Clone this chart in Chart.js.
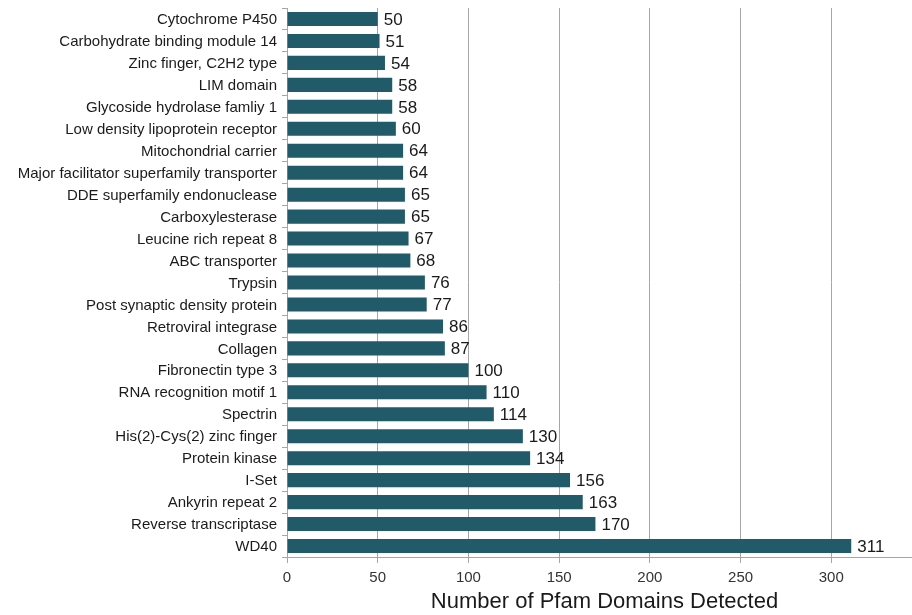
<!DOCTYPE html>
<html>
<head>
<meta charset="utf-8">
<script src="https://cdn.jsdelivr.net/npm/chart.js@4"></script>
<style>
  html, body { margin: 0; padding: 0; background: #fff; overflow: hidden; }
  #wrap { width: 924px; height: 615px; }
</style>
</head>
<body>
<div id="wrap"><canvas id="pfamChart"></canvas></div>
<script>
var domains = ["Cytochrome P450", "Carbohydrate binding module 14", "Zinc finger, C2H2 type", "LIM domain",
    "Glycoside hydrolase famliy 1", "Low density lipoprotein receptor", "Mitochondrial carrier",
    "Major facilitator superfamily transporter", "DDE superfamily endonuclease", "Carboxylesterase",
    "Leucine rich repeat 8", "ABC transporter", "Trypsin", "Post synaptic density protein",
    "Retroviral integrase", "Collagen", "Fibronectin type 3", "RNA recognition motif 1", "Spectrin",
    "His(2)-Cys(2) zinc finger", "Protein kinase", "I-Set", "Ankyrin repeat 2", "Reverse transcriptase", "WD40"];
var counts = [50, 51, 54, 58, 58, 60, 64, 64, 65, 65, 67, 68, 76, 77, 86, 87, 100, 110, 114, 130, 134, 156, 163, 170, 311];
var xMax = 350;

var font = "'Liberation Sans', Arial, sans-serif";

// numbers at the end of each bar
var valueLabels = {
    id: 'valueLabels',
    afterDatasetsDraw: function(chart) {
        var ctx = chart.ctx;
        var meta = chart.getDatasetMeta(0);
        ctx.save();
        ctx.font = "17px " + font;
        ctx.fillStyle = "#1a1a1a";
        ctx.textAlign = "left";
        ctx.textBaseline = "middle";
        meta.data.forEach(function(bar, i) {
            ctx.fillText(counts[i], bar.x + 6, bar.y + 1);
        });
        ctx.restore();
    }
};

var ctx = document.getElementById('pfamChart').getContext('2d');
var myChart = new Chart(ctx, {
    type: 'bar',
    data: {
        labels: domains,
        datasets: [{
            data: counts,
            backgroundColor: "#215a69",
            borderWidth: 0,
            barPercentage: 0.64,
            categoryPercentage: 1
        }]
    },
    options: {
        indexAxis: 'y',
        responsive: true,
        maintainAspectRatio: false,
        animation: false,
        layout: { padding: { top: 8, right: 2, left: 0, bottom: 0 } },
        plugins: {
            legend: { display: false },
            tooltip: { enabled: false }
        },
        scales: {
            x: {
                min: 0,
                max: xMax,
                afterFit: function(axis) {
                    axis.height = 58;
                    axis.paddingLeft = 0;
                    axis.paddingRight = 0;
                },
                grid: {
                    color: "#a6a6a6",
                    lineWidth: 1,
                    tickLength: 6
                },
                border: { color: "#a6a6a6" },
                ticks: {
                    stepSize: 50,
                    color: "#333",
                    font: { family: font, size: 15 },
                    padding: 6,
                    // the last tick sits past the cropped edge
                    callback: function(v) { return v >= xMax ? '' : v; }
                },
                title: {
                    display: true,
                    text: "Number of Pfam Domains Detected",
                    color: "#1a1a1a",
                    font: { family: font, size: 22 },
                    padding: { top: 1, bottom: 0 }
                }
            },
            y: {
                afterFit: function(axis) {
                    axis.width = 287;
                    axis.paddingTop = 0;
                    axis.paddingBottom = 0;
                },
                grid: {
                    drawOnChartArea: false,
                    color: "#a6a6a6",
                    tickLength: 5,
                    offset: true
                },
                border: { color: "#a6a6a6" },
                ticks: {
                    color: "#1a1a1a",
                    font: { family: font, size: 15 },
                    padding: 5,
                    labelOffset: 1,
                    autoSkip: false
                }
            }
        }
    },
    plugins: [valueLabels]
});
</script>
</body>
</html>
